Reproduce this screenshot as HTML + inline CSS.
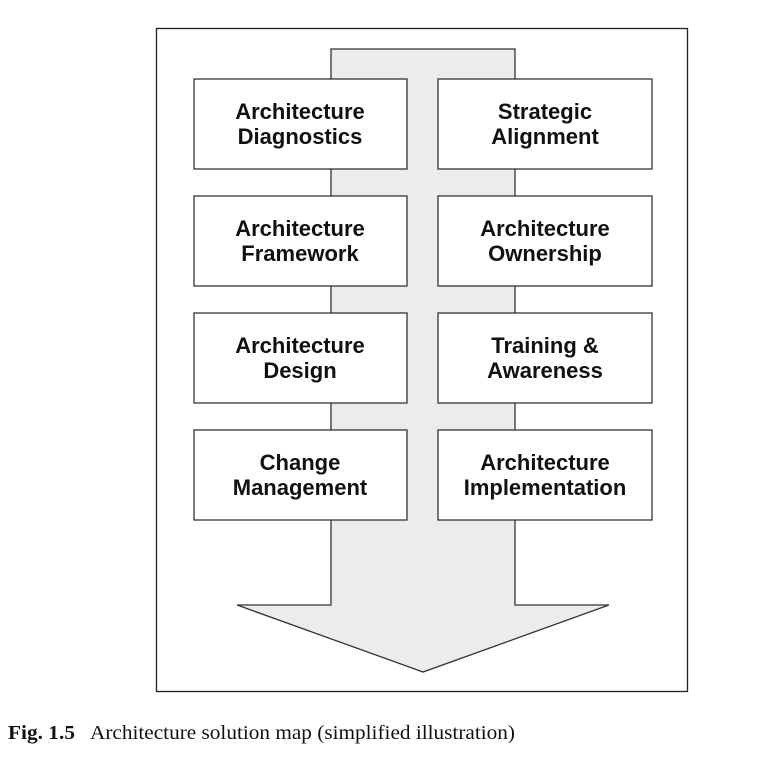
<!DOCTYPE html>
<html><head><style>
body{margin:0;background:#fff;width:765px;height:765px;overflow:hidden}
</style></head><body>
<svg width="765" height="765" xmlns="http://www.w3.org/2000/svg" style="position:absolute;left:0;top:0">
<rect x="156.5" y="28.5" width="531" height="663" fill="#fff" stroke="#222" stroke-width="1.3"/>
<polygon points="331,49 515,49 515,605 609,605 423,672 237,605 331,605" fill="#ececec" stroke="#333" stroke-width="1.3"/>
<g fill="#fff" stroke="#333" stroke-width="1.3">
<rect x="194" y="79" width="213" height="90"/><rect x="438" y="79" width="214" height="90"/>
<rect x="194" y="196" width="213" height="90"/><rect x="438" y="196" width="214" height="90"/>
<rect x="194" y="313" width="213" height="90"/><rect x="438" y="313" width="214" height="90"/>
<rect x="194" y="430" width="213" height="90"/><rect x="438" y="430" width="214" height="90"/>
</g>
<g font-family="Liberation Sans, sans-serif" font-weight="bold" font-size="22" fill="#111" text-anchor="middle">
<text x="300" y="119">Architecture</text><text x="300" y="144">Diagnostics</text>
<text x="545" y="119">Strategic</text><text x="545" y="144">Alignment</text>
<text x="300" y="236">Architecture</text><text x="300" y="261">Framework</text>
<text x="545" y="236">Architecture</text><text x="545" y="261">Ownership</text>
<text x="300" y="353">Architecture</text><text x="300" y="378">Design</text>
<text x="545" y="353">Training &amp;</text><text x="545" y="378">Awareness</text>
<text x="300" y="470">Change</text><text x="300" y="495">Management</text>
<text x="545" y="470">Architecture</text><text x="545" y="495">Implementation</text>
</g>
<g font-family="Liberation Serif, serif" font-size="20" fill="#111">
<text x="8" y="739" font-weight="bold" textLength="67" lengthAdjust="spacingAndGlyphs">Fig. 1.5</text>
<text x="90" y="739" textLength="425" lengthAdjust="spacingAndGlyphs">Architecture solution map (simplified illustration)</text>
</g>
</svg>
</body></html>
